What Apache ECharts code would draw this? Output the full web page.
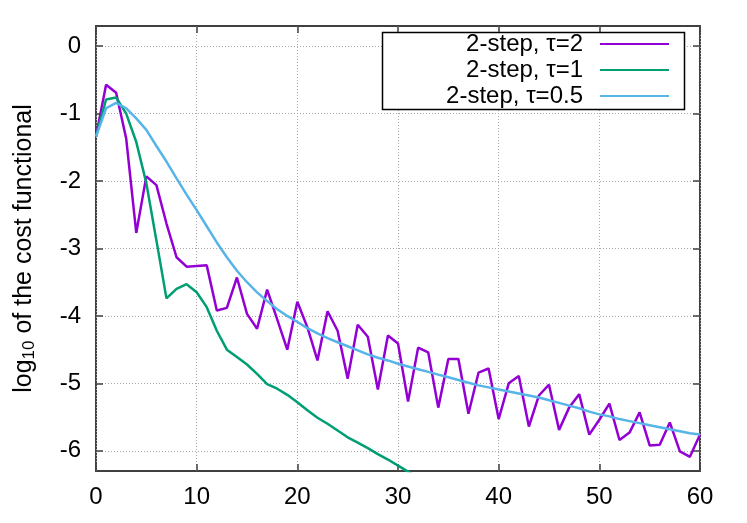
<!DOCTYPE html>
<html>
<head>
<meta charset="utf-8">
<script src="https://cdn.jsdelivr.net/npm/echarts@6/dist/echarts.min.js"></script>
<style>
html, body { margin: 0; padding: 0; background: #fff; }
#chart { width: 747px; height: 523px; }
</style>
</head>
<body>
<div id="chart"></div>
<script>
var iterations = [0, 1, 2, 3, 4, 5, 6, 7, 8, 9, 10, 11, 12, 13, 14, 15, 16, 17, 18, 19, 20,
    21, 22, 23, 24, 25, 26, 27, 28, 29, 30, 31, 32, 33, 34, 35, 36, 37, 38, 39, 40,
    41, 42, 43, 44, 45, 46, 47, 48, 49, 50, 51, 52, 53, 54, 55, 56, 57, 58, 59, 60];

// log10 of cost functional, tau = 2
var tau2 = [-1.34, -0.57, -0.69, -1.37, -2.77, -1.93, -2.06, -2.63, -3.13, -3.27, -3.26,
    -3.25, -3.92, -3.88, -3.43, -3.97, -4.19, -3.61, -4.05, -4.50, -3.79,
    -4.17, -4.66, -3.93, -4.22, -4.93, -4.13, -4.31, -5.09, -4.29, -4.41,
    -5.27, -4.47, -4.54, -5.36, -4.64, -4.64, -5.45, -4.84, -4.78, -5.53,
    -5.00, -4.89, -5.64, -5.18, -5.02, -5.69, -5.36, -5.16, -5.76, -5.54,
    -5.30, -5.84, -5.73, -5.43, -5.92, -5.91, -5.58, -6.01, -6.09, -5.76];

// tau = 1 (leaves the plot below -6.3)
var tau1 = [-1.34, -0.79, -0.76, -1.00, -1.42, -2.03, -2.88, -3.74, -3.60, -3.53, -3.65,
    -3.87, -4.22, -4.50, -4.61, -4.72, -4.86, -5.01, -5.08, -5.17, -5.28,
    -5.40, -5.51, -5.60, -5.70, -5.80, -5.88, -5.96, -6.05, -6.13, -6.22,
    -6.31, -6.40];

// tau = 0.5
var tau05 = [-1.34, -0.92, -0.84, -0.92, -1.07, -1.24, -1.48, -1.71, -1.96, -2.20, -2.43,
    -2.67, -2.91, -3.13, -3.33, -3.50, -3.65, -3.78, -3.90, -4.00, -4.09,
    -4.18, -4.26, -4.33, -4.39, -4.45, -4.51, -4.57, -4.62, -4.66, -4.71,
    -4.75, -4.79, -4.83, -4.87, -4.91, -4.95, -4.99, -5.03, -5.06, -5.09,
    -5.12, -5.15, -5.18, -5.21, -5.25, -5.29, -5.33, -5.37, -5.42, -5.46,
    -5.49, -5.53, -5.56, -5.59, -5.62, -5.65, -5.68, -5.71, -5.74, -5.76];

var yTicks = [-6, -5, -4, -3, -2, -1, 0];
var names = ['2-step, \u03c4=2', '2-step, \u03c4=1', '2-step, \u03c4=0.5'];
var colors = ['#9400d3', '#009e73', '#56b4e9'];

function pairs(vals) {
    return vals.map(function (v, i) { return [iterations[i], v]; });
}

var font = 'Liberation Sans, Arial, sans-serif';
var frame = '#404040';
var gridLine = { show: true, lineStyle: { color: '#a8a8a8', width: 1, type: [1, 2] } };
var tick = { show: true, inside: true, length: 7, lineStyle: { color: frame, width: 1.5 } };
var noLine = { show: false, onZero: false };

var chart = echarts.init(document.getElementById('chart'));

function legendRow(name, top) {
    return {
        data: [name],
        orient: 'vertical',
        align: 'right',
        right: 78,
        top: top,
        padding: 0,
        itemWidth: 69,
        itemHeight: 2,
        icon: 'rect',
        selectedMode: false,
        z: 100,
        textStyle: { fontFamily: font, fontSize: 24, color: '#000', padding: [0, 12, 0, 0] }
    };
}

var option = {
    animation: false,
    color: colors,
    grid: {
        left: 96, right: 47, top: 26, bottom: 52,
        show: true, borderColor: frame, borderWidth: 2, backgroundColor: 'transparent'
    },
    legend: [legendRow(names[0], 32), legendRow(names[1], 58), legendRow(names[2], 84)],
    graphic: [{
        type: 'rect',
        z: 50,
        shape: { x: 382.5, y: 32.5, width: 302, height: 77 },
        style: { fill: '#fff', stroke: '#000', lineWidth: 1.5 }
    }],
    xAxis: [{
        type: 'value', min: 0, max: 60, interval: 10,
        axisLine: noLine,
        axisTick: tick,
        axisLabel: { fontFamily: font, fontSize: 24, color: '#000', margin: 14 },
        splitLine: gridLine
    }, {
        type: 'value', min: 0, max: 60, interval: 10, position: 'top',
        axisLine: noLine,
        axisTick: tick,
        axisLabel: { show: false },
        splitLine: { show: false }
    }],
    yAxis: [{
        type: 'value', min: -6.3, max: 0.3,
        axisLine: noLine,
        axisTick: Object.assign({ customValues: yTicks }, tick),
        axisLabel: { fontFamily: font, fontSize: 24, color: '#000', margin: 15, customValues: yTicks },
        splitLine: gridLine,
        name: '{a|log}{s|10}{a| of the cost functional}',
        nameLocation: 'middle',
        nameRotate: 90,
        nameGap: 58,
        nameTextStyle: {
            rich: {
                a: { fontFamily: font, fontSize: 25, color: '#000' },
                s: { fontFamily: font, fontSize: 17, color: '#000', verticalAlign: 'bottom', padding: [10, 0, 0, 0] }
            }
        }
    }, {
        type: 'value', min: -6.3, max: 0.3, position: 'right',
        axisLine: noLine,
        axisTick: Object.assign({ customValues: yTicks }, tick),
        axisLabel: { show: false },
        splitLine: { show: false }
    }],
    series: [tau2, tau1, tau05].map(function (vals, k) {
        return {
            name: names[k],
            type: 'line',
            data: pairs(vals),
            showSymbol: false,
            symbol: 'none',
            clip: true,
            lineStyle: { width: 2.5, color: colors[k] },
            itemStyle: { color: colors[k] }
        };
    })
};

chart.setOption(option);
</script>
</body>
</html>
